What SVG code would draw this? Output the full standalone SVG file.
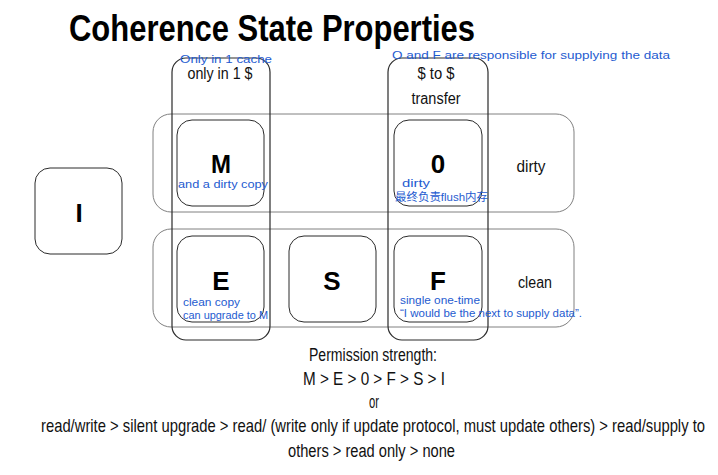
<svg xmlns="http://www.w3.org/2000/svg" width="718" height="475" viewBox="0 0 718 475">
<style>
  .row { fill: none; stroke: #808080; stroke-width: 1; }
  .col { fill: none; stroke: #2a2a2a; stroke-width: 1.2; }
  .box { fill: none; stroke: #2a2a2a; stroke-width: 1; }
  .state { font-family: "Liberation Sans", Arial, sans-serif; font-weight: bold; font-size: 26px; fill: #000; text-anchor: middle; }
  .lbl { font-family: "Liberation Sans Narrow", "Liberation Sans", Arial, sans-serif; font-size: 16px; fill: #111; text-anchor: middle; }
  .body { font-family: "Liberation Sans Narrow", "Liberation Sans", Arial, sans-serif; font-size: 18px; fill: #111; }
  .hand { font-family: "Liberation Sans", "Noto Sans CJK SC", sans-serif; font-size: 11px; fill: #1e5bd0; }
</style>
<rect width="718" height="475" fill="#ffffff"/>

<text x="69" y="41" font-family="Liberation Sans, Arial, sans-serif" font-weight="bold" font-size="37" fill="#000" textLength="406" lengthAdjust="spacingAndGlyphs">Coherence State Properties</text>

<g id="row-dirty">
  <rect class="row" x="153" y="114" width="421" height="98" rx="18"/>
  <text class="lbl" x="531" y="172" font-size="17" textLength="29" lengthAdjust="spacingAndGlyphs">dirty</text>
</g>
<g id="row-clean">
  <rect class="row" x="153" y="229" width="421" height="98" rx="18"/>
  <text class="lbl" x="535" y="288" font-size="17" textLength="34" lengthAdjust="spacingAndGlyphs">clean</text>
</g>

<g id="col-only1">
  <rect class="col" x="172" y="58" width="98" height="282" rx="14"/>
  <text class="lbl" x="220" y="79" textLength="65" lengthAdjust="spacingAndGlyphs">only in 1 $</text>
</g>
<g id="col-transfer">
  <rect class="col" x="388" y="58" width="100" height="282" rx="14"/>
  <text class="lbl" x="436" y="79" textLength="37" lengthAdjust="spacingAndGlyphs">$ to $</text>
  <text class="lbl" x="436" y="104" textLength="49" lengthAdjust="spacingAndGlyphs">transfer</text>
</g>

<g id="node-I">
  <rect class="box" x="35" y="168" width="87" height="86" rx="15"/>
  <text class="state" x="79" y="222">I</text>
</g>
<g id="node-M">
  <rect class="box" x="177" y="120" width="87" height="86" rx="15"/>
  <text class="state" x="221" y="173" textLength="20" lengthAdjust="spacingAndGlyphs">M</text>
</g>
<g id="node-O">
  <rect class="box" x="394" y="120" width="88" height="86" rx="15"/>
  <text class="state" x="438" y="173">0</text>
</g>
<g id="node-E">
  <rect class="box" x="177" y="236" width="87" height="86" rx="15"/>
  <text class="state" x="221" y="290">E</text>
</g>
<g id="node-S">
  <rect class="box" x="289" y="236" width="87" height="86" rx="15"/>
  <text class="state" x="332" y="290">S</text>
</g>
<g id="node-F">
  <rect class="box" x="394" y="236" width="88" height="86" rx="15"/>
  <text class="state" x="438" y="290">F</text>
</g>

<g id="connectors"></g>

<g id="annotations">
  <text class="hand" x="180" y="63" font-size="12" textLength="92" lengthAdjust="spacingAndGlyphs">Only in 1 cache</text>
  <text class="hand" x="392" y="59" font-size="12" textLength="278" lengthAdjust="spacingAndGlyphs">O and F are responsible for supplying the data</text>
  <text class="hand" x="178" y="188" textLength="90" lengthAdjust="spacingAndGlyphs">and a dirty copy</text>
  <text class="hand" x="402" y="187" textLength="28" lengthAdjust="spacingAndGlyphs">dirty</text>
  <text class="hand" x="395" y="201" font-family="Noto Sans CJK SC, sans-serif" textLength="93" lengthAdjust="spacingAndGlyphs">最终负责flush内存</text>
  <text class="hand" x="183" y="306" textLength="57" lengthAdjust="spacingAndGlyphs">clean copy</text>
  <text class="hand" x="183" y="319" textLength="85" lengthAdjust="spacingAndGlyphs">can upgrade to M</text>
  <text class="hand" x="400" y="304" textLength="80" lengthAdjust="spacingAndGlyphs">single one-time</text>
  <text class="hand" x="400" y="317" textLength="182" lengthAdjust="spacingAndGlyphs">“I would be the next to supply data”.</text>
</g>

<g id="permission-text">
  <text class="body" x="309" y="361" textLength="128" lengthAdjust="spacingAndGlyphs">Permission strength:</text>
  <text class="body" x="303" y="385" textLength="142" lengthAdjust="spacingAndGlyphs">M &gt; E &gt; 0 &gt; F &gt; S &gt; I</text>
  <text class="body" x="369" y="408" textLength="10" lengthAdjust="spacingAndGlyphs">or</text>
  <g transform="translate(41,432) scale(0.8,1)">
    <text class="body" x="0" y="0" textLength="830" lengthAdjust="spacingAndGlyphs">read/write &gt; silent upgrade &gt; read/ (write only if update protocol, must update others) &gt; read/supply to</text>
  </g>
  <text class="body" x="288" y="457" textLength="167" lengthAdjust="spacingAndGlyphs">others &gt; read only &gt; none</text>
</g>
</svg>
